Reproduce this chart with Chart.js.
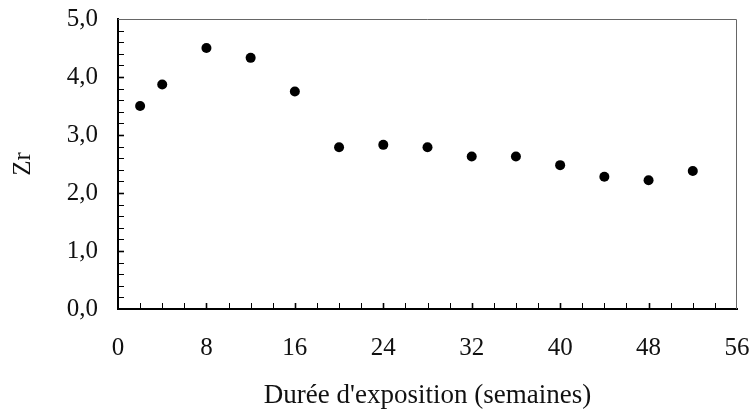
<!DOCTYPE html>
<html>
<head>
<meta charset="utf-8">
<script src="https://cdn.jsdelivr.net/npm/chart.js@4"></script>
<style>
  html, body { margin: 0; padding: 0; background: #fff; }
  #wrap { width: 752px; height: 412px; }
</style>
</head>
<body>
<div id="wrap"><canvas id="zrChart" width="752" height="412"></canvas></div>
<script>
// durée d'exposition (semaines) et Zr mesuré
const semaines = [2, 4, 8, 12, 16, 20, 24, 28, 32, 36, 40, 44, 48, 52];
const zr = [3.50, 3.87, 4.50, 4.33, 3.75, 2.79, 2.83, 2.79, 2.63, 2.63, 2.48, 2.28, 2.22, 2.38];

const xMajor = [0, 8, 16, 24, 32, 40, 48, 56];
const yMajor = [0, 1, 2, 3, 4, 5];
const xMinorStep = 2;
const yMinorStep = 0.2;

const serif = "'Liberation Serif', 'DejaVu Serif', serif";

// petites graduations vers l'intérieur + cadre haut/droite
const innerTicks = {
  id: "innerTicks",
  afterDatasetsDraw(chart) {
    const ctx = chart.ctx;
    const a = chart.chartArea;
    const xs = chart.scales.x, ys = chart.scales.y;
    ctx.save();

    ctx.strokeStyle = "#666";
    ctx.lineWidth = 1;
    ctx.beginPath();
    ctx.moveTo(a.left, a.top + 0.5);
    ctx.lineTo(a.right - 0.5, a.top + 0.5);
    ctx.lineTo(a.right - 0.5, a.bottom);
    ctx.stroke();

    ctx.strokeStyle = "#000";
    for (let v = xs.min + xMinorStep; v < xs.max; v += xMinorStep) {
      const px = Math.round(xs.getPixelForValue(v)) + 0.5;
      const major = xMajor.includes(v);
      ctx.lineWidth = major ? 1.6 : 1;
      ctx.beginPath();
      ctx.moveTo(px, a.bottom);
      ctx.lineTo(px, a.bottom - 6);
      ctx.stroke();
    }
    for (let i = 1; i * yMinorStep < ys.max - 1e-6; i++) {
      const v = +(i * yMinorStep).toFixed(1);
      const py = Math.round(ys.getPixelForValue(v)) + 0.5;
      const major = yMajor.includes(v);
      ctx.lineWidth = major ? 1.6 : 1;
      ctx.beginPath();
      ctx.moveTo(a.left, py);
      ctx.lineTo(a.left + 6, py);
      ctx.stroke();
    }
    ctx.restore();
  }
};

new Chart(document.getElementById("zrChart"), {
  type: "scatter",
  data: {
    datasets: [{
      data: semaines.map((s, i) => ({ x: s, y: zr[i] })),
      backgroundColor: "#000",
      borderWidth: 0,
      pointRadius: 5,
      pointHoverRadius: 5
    }]
  },
  options: {
    responsive: false,
    animation: false,
    events: [],
    layout: { padding: { top: 19, right: 15, left: 0, bottom: 0 } },
    plugins: { legend: { display: false }, tooltip: { enabled: false } },
    scales: {
      x: {
        type: "linear",
        min: 0,
        max: 56,
        afterBuildTicks(scale) { scale.ticks = xMajor.map(v => ({ value: v })); },
        afterFit(scale) {
          scale.height = 103;
          scale.paddingLeft = 0;
          scale.paddingRight = 0;
        },
        grid: { display: true, drawOnChartArea: false, drawTicks: false },
        border: { color: "#000", width: 2 },
        ticks: {
          font: { family: serif, size: 25 },
          color: "#111",
          padding: 24,
          maxRotation: 0,
          autoSkip: false
        },
        title: {
          display: true,
          text: "Durée d'exposition (semaines)",
          font: { family: serif, size: 27 },
          color: "#111",
          padding: { top: 0, bottom: 0 }
        }
      },
      y: {
        min: 0,
        max: 5,
        afterBuildTicks(scale) { scale.ticks = yMajor.map(v => ({ value: v })); },
        afterFit(scale) {
          scale.width = 118;
          scale.paddingTop = 0;
          scale.paddingBottom = 0;
        },
        grid: { display: true, drawOnChartArea: false, drawTicks: false },
        border: { color: "#000", width: 2 },
        ticks: {
          font: { family: serif, size: 25 },
          color: "#111",
          padding: 20,
          callback: v => v.toFixed(1).replace(".", ",")
        },
        title: {
          display: true,
          text: "Zr",
          font: { family: serif, size: 25 },
          color: "#111",
          padding: { top: 8, bottom: 0 }
        }
      }
    }
  },
  plugins: [innerTicks]
});
</script>
</body>
</html>
